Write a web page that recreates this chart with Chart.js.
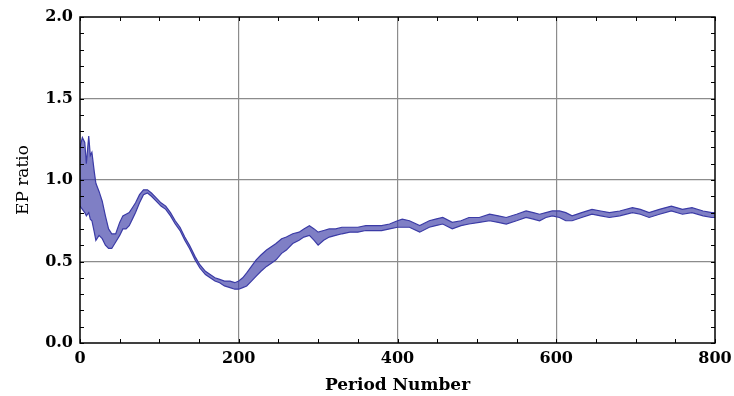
<!DOCTYPE html>
<html>
<head>
<meta charset="utf-8">
<script src="https://cdn.jsdelivr.net/npm/chart.js@4.4.1/dist/chart.umd.min.js"></script>
<style>
  html, body { margin: 0; padding: 0; background: #fff; }
  #wrap { width: 734px; height: 396px; }
</style>
</head>
<body>
<div id="wrap"><canvas id="epChart"></canvas></div>
<script>
const periods = [0, 3, 6, 8, 11, 13, 15, 18, 20, 24, 28, 32, 36, 40, 45, 50, 54, 58, 62, 66,
  70, 75, 80, 85, 90, 96, 102, 108, 114, 120, 126, 132, 138, 145, 151, 158, 164, 170, 176, 182,
  189, 195, 200, 205, 210, 216, 222, 228, 235, 241, 247, 254, 260, 268, 276, 282, 289, 295, 300, 307,
  314, 322, 330, 340, 350, 360, 370, 380, 390, 400, 406, 415, 428, 440, 448, 457, 469, 480, 490, 503,
  516, 527, 537, 550, 562, 571, 579, 587, 595, 604, 612, 620, 632, 645, 656, 667, 680, 696, 706, 717,
  730, 745, 759, 771, 785, 796, 800];

// top of the oscillating EP ratio band
const epUpper = [1.20, 1.26, 1.23, 1.10, 1.27, 1.15, 1.17, 1.05, 0.98, 0.93, 0.87, 0.78, 0.70, 0.67, 0.67, 0.74, 0.78, 0.79, 0.80, 0.83,
  0.86, 0.91, 0.94, 0.94, 0.92, 0.89, 0.86, 0.84, 0.80, 0.75, 0.71, 0.65, 0.60, 0.53, 0.48, 0.44, 0.42, 0.40, 0.39, 0.38,
  0.38, 0.37, 0.38, 0.40, 0.43, 0.47, 0.51, 0.54, 0.57, 0.59, 0.61, 0.64, 0.65, 0.67, 0.68, 0.70, 0.72, 0.70, 0.68, 0.69,
  0.70, 0.70, 0.71, 0.71, 0.71, 0.72, 0.72, 0.72, 0.73, 0.75, 0.76, 0.75, 0.72, 0.75, 0.76, 0.77, 0.74, 0.75, 0.77, 0.77,
  0.79, 0.78, 0.77, 0.79, 0.81, 0.80, 0.79, 0.80, 0.81, 0.81, 0.80, 0.78, 0.80, 0.82, 0.81, 0.80, 0.81, 0.83, 0.82, 0.80,
  0.82, 0.84, 0.82, 0.83, 0.81, 0.80, 0.80];

// bottom of the band
const epLower = [0.84, 0.82, 0.80, 0.78, 0.80, 0.76, 0.75, 0.68, 0.63, 0.66, 0.64, 0.60, 0.58, 0.58, 0.62, 0.66, 0.70, 0.70, 0.72, 0.76,
  0.80, 0.86, 0.91, 0.92, 0.90, 0.87, 0.84, 0.82, 0.78, 0.73, 0.69, 0.63, 0.58, 0.51, 0.46, 0.42, 0.40, 0.38, 0.37, 0.35,
  0.34, 0.33, 0.33, 0.34, 0.35, 0.38, 0.41, 0.44, 0.47, 0.49, 0.51, 0.55, 0.57, 0.61, 0.63, 0.65, 0.66, 0.63, 0.60, 0.63,
  0.65, 0.66, 0.67, 0.68, 0.68, 0.69, 0.69, 0.69, 0.70, 0.71, 0.71, 0.71, 0.68, 0.71, 0.72, 0.73, 0.70, 0.72, 0.73, 0.74,
  0.75, 0.74, 0.73, 0.75, 0.77, 0.76, 0.75, 0.77, 0.78, 0.77, 0.75, 0.75, 0.77, 0.79, 0.78, 0.77, 0.78, 0.80, 0.79, 0.77,
  0.79, 0.81, 0.79, 0.80, 0.78, 0.77, 0.77];

const xTicks = [0, 200, 400, 600, 800];
const yTicks = [0.0, 0.5, 1.0, 1.5, 2.0];

const lineColor = "#3b3ba6";
const tickFont = { family: "DejaVu Serif", weight: "bold", size: 16 };

// small inward ticks on all four sides + black frame
const frameTicks = {
  id: "frameTicks",
  afterDraw(chart) {
    const { ctx, chartArea: a, scales } = chart;
    const xs = scales.x, ys = scales.y;
    ctx.save();
    ctx.strokeStyle = "#000";
    ctx.lineWidth = 1;
    ctx.beginPath();
    for (let v = 0; v <= 800; v += 50) {
      const px = Math.round(xs.getPixelForValue(v)) + 0.5;
      ctx.moveTo(px, a.bottom); ctx.lineTo(px, a.bottom - 4);
      ctx.moveTo(px, a.top); ctx.lineTo(px, a.top + 4);
    }
    for (let i = 0; i <= 20; i++) {
      const py = Math.round(ys.getPixelForValue(i / 10)) + 0.5;
      ctx.moveTo(a.left, py); ctx.lineTo(a.left + 4, py);
      ctx.moveTo(a.right, py); ctx.lineTo(a.right - 4, py);
    }
    ctx.stroke();
    ctx.lineWidth = 1.5;
    ctx.strokeRect(a.left, a.top, a.right - a.left, a.bottom - a.top);
    ctx.restore();
  },
};

const epChart = new Chart(document.getElementById("epChart"), {
  type: "line",
  data: {
    datasets: [
      {
        label: "lower",
        data: periods.map((p, i) => ({ x: p, y: epLower[i] })),
        borderColor: lineColor,
        borderWidth: 1.2,
        pointRadius: 0,
        fill: false,
      },
      {
        label: "upper",
        data: periods.map((p, i) => ({ x: p, y: epUpper[i] })),
        borderColor: lineColor,
        borderWidth: 1.2,
        pointRadius: 0,
        backgroundColor: "rgba(59, 59, 166, 0.65)",
        fill: "-1",
      },
    ],
  },
  options: {
    responsive: true,
    maintainAspectRatio: false,
    animation: false,
    layout: { padding: { top: 17, right: 19, left: 0, bottom: 0 } },
    plugins: {
      legend: { display: false },
      tooltip: { enabled: false },
    },
    scales: {
      x: {
        type: "linear",
        min: 0,
        max: 800,
        afterBuildTicks: (s) => { s.ticks = xTicks.map((v) => ({ value: v })); },
        afterFit: (s) => { s.height = 53; s.paddingLeft = 0; s.paddingRight = 0; },
        ticks: { color: "#000", font: tickFont, padding: 6, maxRotation: 0 },
        grid: {
          drawTicks: false,
          lineWidth: 1.2,
          color: (c) => (c.tick && (c.tick.value === 0 || c.tick.value === 800) ? "rgba(0,0,0,0)" : "#8c8c8c"),
        },
        border: { display: false },
        title: {
          display: true,
          text: "Period Number",
          color: "#000",
          font: { family: "DejaVu Serif", weight: "bold", size: 17 },
          padding: { top: 0, bottom: 0 },
        },
      },
      y: {
        min: 0,
        max: 2,
        afterBuildTicks: (s) => { s.ticks = yTicks.map((v) => ({ value: v })); },
        afterFit: (s) => { s.width = 80; s.paddingTop = 0; s.paddingBottom = 0; },
        ticks: { color: "#000", font: tickFont, padding: 7, callback: (v) => Number(v).toFixed(1) },
        grid: {
          drawTicks: false,
          lineWidth: 1.2,
          color: (c) => (c.tick && (c.tick.value === 0 || c.tick.value === 2) ? "rgba(0,0,0,0)" : "#8c8c8c"),
        },
        border: { display: false },
        title: {
          display: true,
          text: "EP ratio",
          color: "#000",
          font: { family: "DejaVu Serif", size: 17 },
          padding: { top: 13, bottom: 0 },
        },
      },
    },
  },
  plugins: [frameTicks],
});
</script>
</body>
</html>
